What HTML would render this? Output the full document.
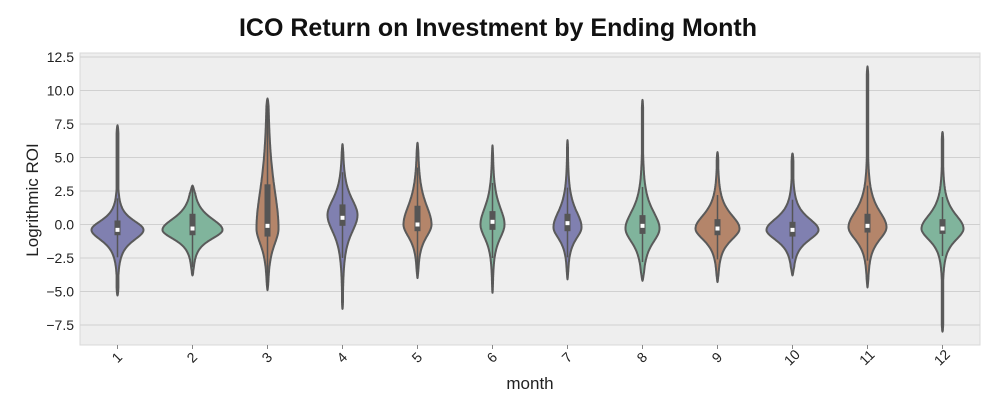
<!DOCTYPE html>
<html><head><meta charset="utf-8"><style>
body{margin:0;background:#fff;width:997px;height:415px;overflow:hidden}
svg text{font-family:"Liberation Sans",sans-serif}
</style></head><body>
<svg id="chart" width="997" height="415" xmlns="http://www.w3.org/2000/svg">
<text x="498" y="36" text-anchor="middle" font-size="25" font-weight="bold" fill="#111">ICO Return on Investment by Ending Month</text>
<rect x="80" y="53" width="900" height="292" fill="#eeeeee" stroke="#d8d8d8"/>
<g id="grid"></g><g id="yticks"></g><g id="violins"></g><g id="xticks"></g>
<text transform="translate(38,200) rotate(-90)" text-anchor="middle" font-size="17" fill="#222">Logrithmic ROI</text>
<text x="530" y="389" text-anchor="middle" font-size="17" fill="#222">month</text>
</svg>
<script>
const months=["1","2","3","4","5","6","7","8","9","10","11","12"];
const lo=[-5.3,-3.8,-4.9,-6.3,-4.0,-5.1,-4.1,-4.2,-4.3,-3.8,-4.7,-8.0];
const hi=[7.4,2.9,9.4,6.0,6.1,5.9,6.3,9.3,5.4,5.3,11.8,6.9];
const mode=[-0.4,-0.4,-0.3,0.7,0.0,0.0,-0.2,-0.3,-0.3,-0.4,-0.2,-0.3];
const spreadUp=[0.8,1.0,3.5,1.4,1.7,1.5,1.4,1.5,1.2,1.0,1.4,1.2];
const spreadDown=[0.9,0.8,1.4,1.5,1.1,1.2,1.0,1.2,1.0,0.9,1.1,1.0];
const halfW=[26,30,11,15,14,12,14,17,22,26,19,21];
const median=[-0.4,-0.3,-0.1,0.5,0.0,0.2,0.1,-0.1,-0.3,-0.4,-0.1,-0.3];
const q1=[-0.8,-0.8,-0.9,-0.1,-0.5,-0.4,-0.5,-0.7,-0.8,-0.9,-0.6,-0.7];
const q3=[0.3,0.8,3.0,1.5,1.4,1.0,0.8,0.7,0.4,0.2,0.8,0.4];
const yTicks=[12.5,10,7.5,5,2.5,0,-2.5,-5,-7.5];
const yTickLabels=["12.5","10.0","7.5","5.0","2.5","0.0","\u22122.5","\u22125.0","\u22127.5"];
const colors=["#8080b0","#80b49c","#b4856a","#8080b0","#b4856a","#80b49c","#8080b0","#80b49c","#b4856a","#8080b0","#b4856a","#80b49c"];
const NS="http://www.w3.org/2000/svg";
const yS=v=>224.5-v*13.4;
const xS=i=>117.5+i*75;
function mk(t,a,p){const e=document.createElementNS(NS,t);for(const k in a)e.setAttribute(k,a[k]);p.appendChild(e);return e;}
const grid=document.getElementById('grid'),yt=document.getElementById('yticks'),vg=document.getElementById('violins'),xt=document.getElementById('xticks');
yTicks.forEach((v,i)=>{
 const l=mk('line',{x1:80,x2:980,y1:yS(v),y2:yS(v),stroke:'#d0d0d0','stroke-width':1},grid);
 
 
 const t=mk('text',{x:74,y:yS(v)+5,'text-anchor':'end','font-size':14,fill:'#222'},yt);
 t.textContent=yTickLabels[i];
 
 
});
months.forEach((m,i)=>{
 const cx=xS(i);
 const f=v=>{const s=v>mode[i]?spreadUp[i]:spreadDown[i];const z=(v-mode[i])/s;
  const g=Math.pow(1+z*z/2.5,-1.75);
  const dEnd=Math.min(v-lo[i],hi[i]-v);
  const taper=Math.min(1,Math.sqrt(Math.max(dEnd,0)/0.6));
  return Math.max(g,0.035)*taper;};
 const N=200;let right=[],left=[];
 for(let k=0;k<=N;k++){const v=lo[i]+(hi[i]-lo[i])*k/N;const w=halfW[i]*f(v);
  right.push([cx+w,yS(v)]);left.push([cx-w,yS(v)]);}
 const pts=right.concat(left.reverse());
 const p=mk('path',{d:'M'+pts.map(q=>q[0].toFixed(1)+','+q[1].toFixed(1)).join('L')+'Z',fill:colors[i],stroke:'#5a5a5a','stroke-width':2,'stroke-linejoin':'round'},vg);
 
 
 const iqr=q3[i]-q1[i];
 const wl=mk('line',{x1:cx,x2:cx,y1:yS(Math.min(hi[i],q3[i]+1.5*iqr)),y2:yS(Math.max(lo[i],q1[i]-1.5*iqr)),stroke:'#555','stroke-width':1.5},vg);
 
 
 const b=mk('rect',{x:cx-3,y:yS(q3[i]),width:6,height:yS(q1[i])-yS(q3[i]),fill:'#555'},vg);
 
 
 const md=mk('rect',{x:cx-2,y:yS(median[i])-2,width:4,height:4,fill:'#fff'},vg);
 
 
 mk('line',{x1:cx,x2:cx,y1:345,y2:349,stroke:'#888'},xt);
 const t=mk('text',{x:cx,y:362,'text-anchor':'middle','font-size':14,fill:'#222',transform:`rotate(-45 ${cx} 358)`},xt);
 t.textContent=m;
 
 
});
</script>
</body></html>
